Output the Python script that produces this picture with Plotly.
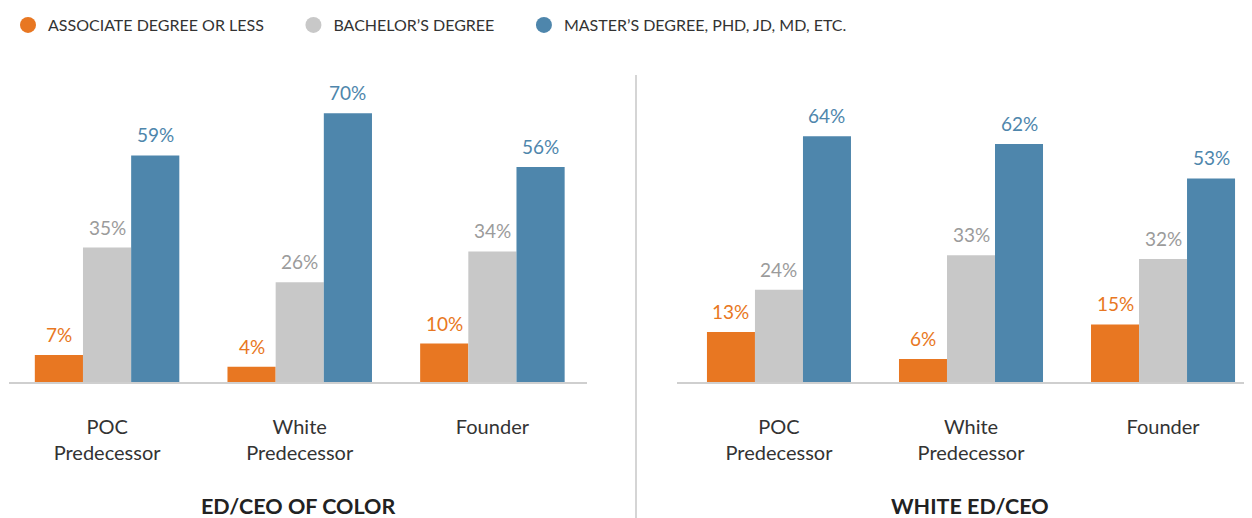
import plotly.graph_objects as go

categories = ["POC<br>Predecessor", "White<br>Predecessor", "Founder"]
series_names = ["ASSOCIATE DEGREE OR LESS", "BACHELOR’S DEGREE", "MASTER’S DEGREE, PHD, JD, MD, ETC."]
color_panel = [7, 4, 10], [35, 26, 34], [59, 70, 56]
white_panel = [13, 6, 15], [24, 33, 32], [64, 62, 53]
panel_titles = ["ED/CEO OF COLOR", "WHITE ED/CEO"]

bar_colors = ["#E87722", "#C8C8C8", "#4E86AC"]
label_colors = ["#E87722", "#9B9B9B", "#4E86AC"]
FONT = "Lato"
W, H, OFF = 1252, 518, 8  # page body margin offsets the figure by 8 px


def xp(px):
    return (px - OFF) / W


def yp(py):
    return 1 - (py - OFF) / H


fig = go.Figure()
panels = [(color_panel, "x", "y"), (white_panel, "x2", "y2")]
for data, xa, ya in panels:
    for i, vals in enumerate(data):
        fig.add_trace(go.Bar(x=categories, y=vals, marker_color=bar_colors[i],
                             marker_line_width=0, xaxis=xa, yaxis=ya,
                             showlegend=False, hoverinfo="skip"))
        for j, v in enumerate(vals):
            fig.add_annotation(x=categories[j], y=v, xref=xa, yref=ya,
                               text=f"{v}%", showarrow=False, yanchor="bottom",
                               xanchor="center",
                               xshift=(i - 1) * 48, yshift=7,
                               font=dict(family=FONT, size=19, color=label_colors[i]))

pad = "\u00a0" * 6
for i, name in enumerate(series_names):
    fig.add_trace(go.Scatter(x=[categories[0]], y=[None], mode="markers", name=name + pad,
                             marker=dict(symbol="circle", size=17, color=bar_colors[i]),
                             hoverinfo="skip"))

axis_common = dict(showgrid=False, zeroline=False, showline=True, linecolor="#CFCFCF",
                   linewidth=2, ticks="", tickfont=dict(family=FONT, size=20, color="#333333"),
                   ticklabelstandoff=26, fixedrange=True,
                   categoryorder="array", categoryarray=categories)
ydom = [yp(382), yp(60)]
fig.update_layout(
    width=W, height=H, margin=dict(l=0, r=0, t=0, b=0, autoexpand=False),
    plot_bgcolor="white", paper_bgcolor="white",
    barmode="group", bargap=0.25, bargroupgap=0,
    xaxis=dict(domain=[xp(9), xp(587)], range=[-0.509, 2.491], anchor="y", **axis_common),
    xaxis2=dict(domain=[xp(677), 1.0], range=[-0.531, 2.505], anchor="y2", **axis_common),
    yaxis=dict(domain=ydom, range=[0, 83.85], visible=False, fixedrange=True, anchor="x"),
    yaxis2=dict(domain=ydom, range=[0, 83.85], visible=False, fixedrange=True, anchor="x2"),
    legend=dict(orientation="h", x=0, y=yp(8), xanchor="left", yanchor="top",
                font=dict(family=FONT, size=16, color="#333333"),
                itemsizing="trace", itemwidth=30),
    font=dict(family=FONT),
    showlegend=True,
)

for k, title in enumerate(panel_titles):
    fig.add_annotation(x=xp([298, 970][k]), y=yp(506), xref="paper", yref="paper",
                       text=f"<b>{title}</b>", showarrow=False, yanchor="middle",
                       xanchor="center",
                       font=dict(family=FONT, size=21.5, color="#222222"))

fig.add_shape(type="line", xref="paper", yref="paper", x0=xp(636), x1=xp(636),
              y0=0, y1=yp(75), line=dict(color="#D5D5D5", width=2))

fig.write_html("out.html")
